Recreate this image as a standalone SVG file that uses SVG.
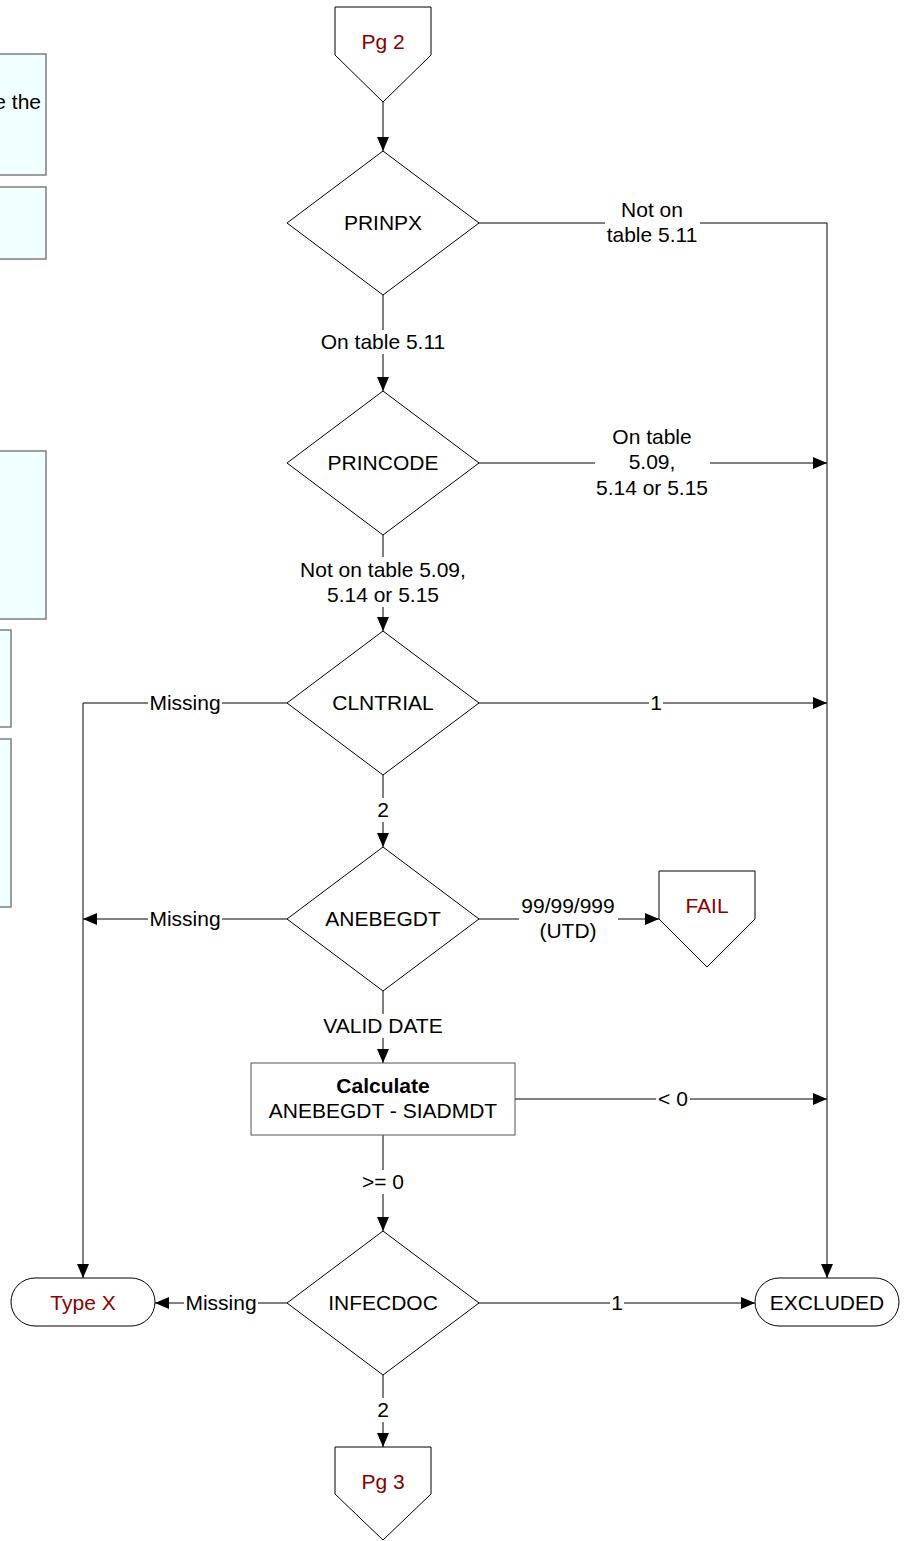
<svg xmlns="http://www.w3.org/2000/svg" width="907" height="1541" viewBox="0 0 907 1541">
<style>
text{font-family:"Liberation Sans",Arial,sans-serif;font-size:21px;fill:#000;text-anchor:middle}
.red{fill:#8B0000}
.b{font-weight:bold}
.shape{fill:#fff;stroke:#000;stroke-width:1}
.note{fill:#F0FFFF;stroke:#7f7f7f;stroke-width:1.5}
.conn path{fill:none;stroke:#000;stroke-width:1}
.lbl rect{fill:#fff;stroke:none}
</style>
<defs>
<marker id="arr" viewBox="0 0 14 12" refX="14" refY="6" markerWidth="14" markerHeight="12" orient="auto" markerUnits="userSpaceOnUse"><path d="M0,0 L14,6 L0,12 z" fill="#000"/></marker>
</defs>
<g id="notes">
<rect class="note" x="-10" y="54" width="56" height="121"/>
<text x="41" y="109" style="text-anchor:end">e the</text>
<rect class="note" x="-10" y="187" width="56" height="72"/>
<rect class="note" x="-10" y="451" width="56" height="168"/>
<rect class="note" x="-10" y="630" width="21" height="97"/>
<rect class="note" x="-10" y="739" width="21" height="168"/>
</g>
<g class="conn" id="connectors">
<path d="M383,102 V151" marker-end="url(#arr)"/>
<path d="M479,223 H827 V1278" marker-end="url(#arr)"/>
<path d="M383,295 V391" marker-end="url(#arr)"/>
<path d="M479,463 H827" marker-end="url(#arr)"/>
<path d="M383,535 V631" marker-end="url(#arr)"/>
<path d="M287,703 H83 V1278" marker-end="url(#arr)"/>
<path d="M479,703 H827" marker-end="url(#arr)"/>
<path d="M383,775 V847" marker-end="url(#arr)"/>
<path d="M287,919 H83" marker-end="url(#arr)"/>
<path d="M479,919 H659" marker-end="url(#arr)"/>
<path d="M383,991 V1063" marker-end="url(#arr)"/>
<path d="M515,1099 H827" marker-end="url(#arr)"/>
<path d="M383,1135 V1231" marker-end="url(#arr)"/>
<path d="M287,1303 H155" marker-end="url(#arr)"/>
<path d="M479,1303 H755" marker-end="url(#arr)"/>
<path d="M383,1375 V1447" marker-end="url(#arr)"/>
</g>
<g class="lbl" id="labels">
<rect x="605" y="198" width="95" height="50"/>
<text x="652" y="217">Not on</text>
<text x="652" y="242">table 5.11</text>
<rect x="318" y="330" width="130" height="24"/>
<text x="383" y="349">On table 5.11</text>
<rect x="595" y="425" width="115" height="76"/>
<text x="652" y="444">On table</text>
<text x="652" y="469">5.09,</text>
<text x="652" y="495">5.14 or 5.15</text>
<rect x="297" y="557" width="172" height="50"/>
<text x="383" y="577">Not on table 5.09,</text>
<text x="383" y="602">5.14 or 5.15</text>
<rect x="148" y="691" width="74" height="24"/>
<text x="185" y="710">Missing</text>
<rect x="649" y="691" width="14" height="24"/>
<text x="656" y="710">1</text>
<rect x="376" y="798" width="14" height="24"/>
<text x="383" y="817">2</text>
<rect x="148" y="907" width="74" height="24"/>
<text x="185" y="926">Missing</text>
<rect x="519" y="893" width="99" height="50"/>
<text x="568" y="913">99/99/999</text>
<text x="568" y="938">(UTD)</text>
<rect x="320" y="1014" width="126" height="24"/>
<text x="383" y="1033">VALID DATE</text>
<rect x="656" y="1087" width="34" height="24"/>
<text x="673" y="1106">&lt; 0</text>
<rect x="360" y="1170" width="46" height="24"/>
<text x="383" y="1189">&gt;= 0</text>
<rect x="184" y="1291" width="74" height="24"/>
<text x="221" y="1310">Missing</text>
<rect x="610" y="1291" width="14" height="24"/>
<text x="617" y="1310">1</text>
<rect x="376" y="1398" width="14" height="24"/>
<text x="383" y="1417">2</text>
</g>
<g id="pg2">
<polygon class="shape" points="335,7 431,7 431,55 383,102 335,55"/>
<text class="red" x="383" y="49">Pg 2</text>
</g>
<g id="prinpx">
<polygon class="shape" points="383,151 479,223 383,295 287,223"/>
<text x="383" y="230">PRINPX</text>
</g>
<g id="princode">
<polygon class="shape" points="383,391 479,463 383,535 287,463"/>
<text x="383" y="470">PRINCODE</text>
</g>
<g id="clntrial">
<polygon class="shape" points="383,631 479,703 383,775 287,703"/>
<text x="383" y="710">CLNTRIAL</text>
</g>
<g id="anebegdt">
<polygon class="shape" points="383,847 479,919 383,991 287,919"/>
<text x="383" y="926">ANEBEGDT</text>
</g>
<g id="fail">
<polygon class="shape" points="659,871 755,871 755,919 707,967 659,919"/>
<text class="red" x="707" y="913">FAIL</text>
</g>
<g id="calculate">
<rect class="shape" x="251" y="1063" width="264" height="72" style="stroke:#555"/>
<text class="b" x="383" y="1093">Calculate</text>
<text x="383" y="1118">ANEBEGDT - SIADMDT</text>
</g>
<g id="infecdoc">
<polygon class="shape" points="383,1231 479,1303 383,1375 287,1303"/>
<text x="383" y="1310">INFECDOC</text>
</g>
<g id="typex">
<rect class="shape" x="11" y="1278" width="144" height="48" rx="24" ry="24"/>
<text class="red" x="83" y="1310">Type X</text>
</g>
<g id="excluded">
<rect class="shape" x="755" y="1278" width="144" height="48" rx="24" ry="24"/>
<text x="827" y="1310">EXCLUDED</text>
</g>
<g id="pg3">
<polygon class="shape" points="335,1447 431,1447 431,1494 383,1540 335,1494"/>
<text class="red" x="383" y="1489">Pg 3</text>
</g>
</svg>
